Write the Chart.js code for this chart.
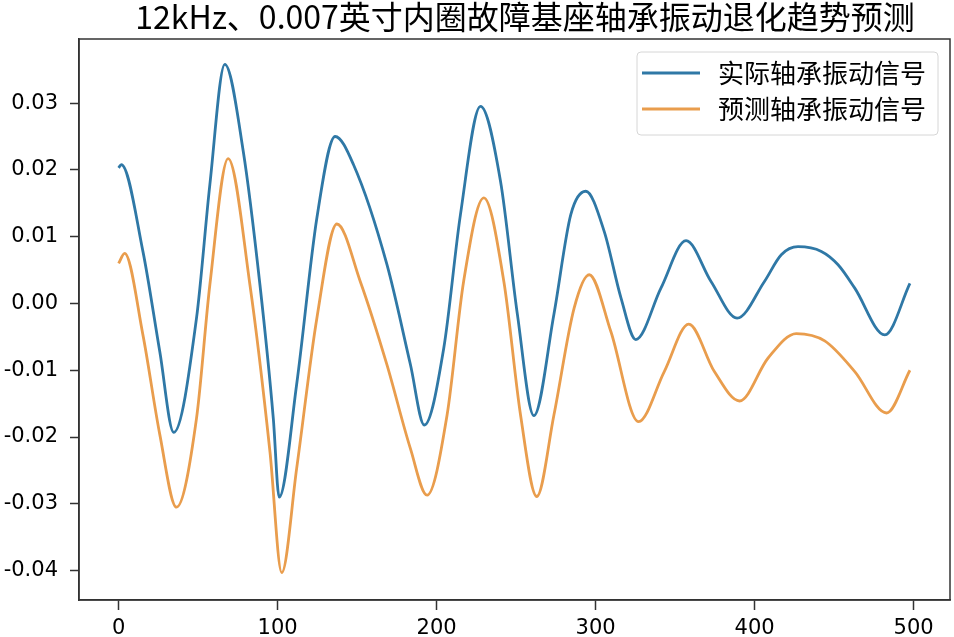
<!DOCTYPE html>
<html>
<head>
<meta charset="utf-8">
<script src="https://cdn.jsdelivr.net/npm/chart.js@4.4.1/dist/chart.umd.min.js"></script>
<style>
  body { margin: 0; background: #fff; }
  #wrap { width: 954px; height: 637px; }
</style>
</head>
<body>
<div id="wrap"><canvas id="myChart" width="954" height="637"></canvas></div>
<script>
// values
var titleText = '12kHz、0.007英寸内圈故障基座轴承振动退化趋势预测';
var seriesNames = ['实际轴承振动信号', '预测轴承振动信号'];

var actualX = [0, 1.7, 15.3, 25.9, 34.7, 49, 57.4, 66.8, 78.4, 88.9, 97.3, 101, 112, 124.7, 136.2,
               147.7, 168.8, 183.5, 192.3, 204.5, 215, 227.6, 240.2, 250.8, 261.2, 273.8, 284.4, 293.8,
               305.4, 316, 325.3, 341.1, 356.9, 372.6, 389, 406.2, 416.8, 427.3, 442, 452.5, 463, 481.9, 497.7];
var actualY = [0.0203, 0.0208, 0.0078, -0.0072, -0.0193, -0.0022, 0.0178, 0.0358, 0.0228, 0.0028, -0.0172,
               -0.0290, -0.0121, 0.0128, 0.0250, 0.0208, 0.0058, -0.0091, -0.0182, -0.0067, 0.0133, 0.0295,
               0.0183, -0.0016, -0.0168, -0.0016, 0.0133, 0.0168, 0.0108, 0.0008, -0.0054, 0.0023, 0.0094,
               0.0033, -0.0022, 0.0033, 0.0073, 0.0085, 0.0078, 0.0058, 0.0023, -0.0047, 0.0030];

var predX = [0, 3.8, 15.3, 25.9, 36.4, 49, 57.4, 68.9, 82.6, 95.2, 102.6, 112, 124.7, 137.3, 152, 168.8,
             183.5, 194, 206.6, 217, 229.7, 242.3, 252.8, 263, 273.8, 286.5, 296, 309.6, 327, 343.2, 358.6,
             374.7, 390.5, 408.4, 426.2, 444.1, 463, 483, 497.7];
var predY = [0.0060, 0.0075, -0.0047, -0.0196, -0.0305, -0.0172, 0.0028, 0.0217, 0.0028, -0.0222, -0.0403,
             -0.0247, -0.0022, 0.0119, 0.0033, -0.0092, -0.0217, -0.0287, -0.0167, 0.0033, 0.0158, 0.0033,
             -0.0167, -0.0289, -0.0167, -0.0007, 0.0043, -0.0042, -0.0177, -0.0102, -0.0031, -0.0102,
             -0.0146, -0.0082, -0.0045, -0.0056, -0.0102, -0.0164, -0.0100];

var xTicks = [0, 100, 200, 300, 400, 500];
var yTicks = [-0.04, -0.03, -0.02, -0.01, 0.00, 0.01, 0.02, 0.03];

var blue = '#2f78a6';
var orange = '#e99d4d';

function toPoints(xs, ys) {
    return xs.map(function(x, i) { return {x: x, y: ys[i]}; });
}

var framePlugin = {
    id: 'frame',
    afterDraw: function(chart) {
        var c = chart.ctx;
        var a = chart.chartArea;
        c.save();
        c.strokeStyle = '#333';
        c.lineWidth = 1.5;
        c.strokeRect(a.left, a.top, a.right - a.left, a.bottom - a.top);

        // title
        c.fillStyle = '#000';
        c.font = '32px "Noto Sans CJK SC"';
        c.textAlign = 'center';
        c.textBaseline = 'middle';
        c.fillText(titleText, 525, 17);

        // legend box
        var bx = 637, by = 52, bw = 301, bh = 83;
        c.fillStyle = 'rgba(255,255,255,0.85)';
        c.strokeStyle = '#d6d6d6';
        c.lineWidth = 1;
        c.beginPath();
        c.roundRect(bx, by, bw, bh, 4);
        c.fill();
        c.stroke();
        var rows = [73, 109];
        chart.data.datasets.forEach(function(ds, i) {
            c.strokeStyle = ds.borderColor;
            c.lineWidth = 2.8;
            c.beginPath();
            c.moveTo(642, rows[i]);
            c.lineTo(700, rows[i]);
            c.stroke();
            c.fillStyle = '#000';
            c.font = '26px "Noto Sans CJK SC"';
            c.textAlign = 'left';
            c.fillText(ds.label, 718, rows[i]);
        });
        c.restore();
    }
};

var ctx = document.getElementById('myChart');
var myChart = new Chart(ctx, {
    type: 'line',
    data: {
        datasets: [{
            label: seriesNames[0],
            data: toPoints(actualX, actualY),
            borderColor: blue,
            borderWidth: 2.8,
            pointRadius: 0,
            cubicInterpolationMode: 'monotone'
        }, {
            label: seriesNames[1],
            data: toPoints(predX, predY),
            borderColor: orange,
            borderWidth: 2.8,
            pointRadius: 0,
            cubicInterpolationMode: 'monotone'
        }]
    },
    options: {
        responsive: false,
        animation: false,
        layout: { padding: { top: 39, right: 4, left: 0, bottom: 0 } },
        plugins: {
            legend: { display: false },
            tooltip: { enabled: false }
        },
        scales: {
            x: {
                type: 'linear',
                min: -24.9,
                max: 522.9,
                afterBuildTicks: function(scale) {
                    scale.ticks = xTicks.map(function(v) { return {value: v}; });
                },
                afterFit: function(scale) { scale.height = 37; },
                grid: { drawOnChartArea: false, tickLength: 10, tickColor: '#333', tickWidth: 1.5 },
                border: { display: true, color: '#333', width: 1.5 },
                ticks: {
                    color: '#000',
                    padding: 6,
                    maxRotation: 0,
                    font: { family: 'DejaVu Sans', size: 21 },
                    callback: function(value) { return String(value); }
                }
            },
            y: {
                type: 'linear',
                min: -0.0444,
                max: 0.0396,
                afterBuildTicks: function(scale) {
                    scale.ticks = yTicks.map(function(v) { return {value: v}; });
                },
                afterFit: function(scale) { scale.width = 79; },
                grid: { drawOnChartArea: false, tickLength: 9, tickColor: '#333', tickWidth: 1.5 },
                border: { display: true, color: '#333', width: 1.5 },
                ticks: {
                    color: '#000',
                    padding: 12,
                    font: { family: 'DejaVu Sans', size: 21 },
                    callback: function(value) { return value.toFixed(2); }
                }
            }
        }
    },
    plugins: [framePlugin]
});
</script>
</body>
</html>
